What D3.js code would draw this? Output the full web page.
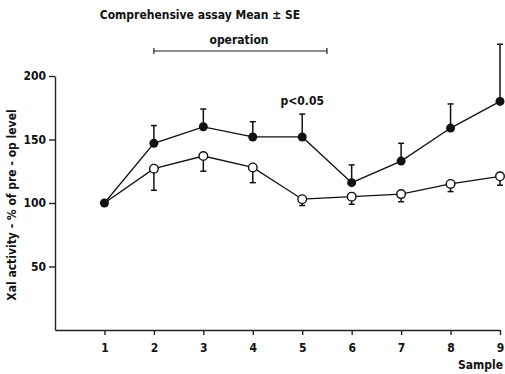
<!DOCTYPE html>
<meta charset="utf-8">
<script src="https://d3js.org/d3.v7.min.js"></script>
<style>
  body { margin: 0; background: #fff; }
  text { font-family: "Liberation Sans Narrow", "DejaVu Sans Condensed", "Roboto Condensed", sans-serif; font-weight: bold; fill: #111; }
</style>
<div id="my_dataviz"></div>
<script>

  // data
  var samples = [1, 2, 3, 4, 5, 6, 7, 8, 9]
  var filledMean = [100, 147, 160, 152, 152, 116, 133, 159, 180]
  var filledUpper = [100, 161, 174, 164, 170, 130, 147, 178, 225]
  var openMean = [100, 127, 137, 128, 103, 105, 107, 115, 121]
  var openLower = [100, 110, 125, 116, 98, 99, 101, 109, 114]
  var yTicks = [50, 100, 150, 200]

  var width = 505, height = 374

  var svg = d3.select("#my_dataviz")
    .append("svg")
      .attr("width", width)
      .attr("height", height)

  var x = d3.scaleLinear().domain([0, 9]).range([55, 500])
  var y = d3.scaleLinear().domain([0, 200]).range([330, 76])

  // axes
  var xAxis = svg.append("g")
    .attr("transform", "translate(0," + y(0) + ")")
    .call(d3.axisBottom(x).tickValues(samples).tickSize(5).tickPadding(8).tickSizeOuter(0))
  var yAxis = svg.append("g")
    .attr("transform", "translate(" + x(0) + ",0)")
    .call(d3.axisLeft(y).tickValues(yTicks).tickSize(6).tickPadding(3).tickSizeOuter(0))
  svg.selectAll(".domain, .tick line").attr("stroke", "#222").attr("stroke-width", 1.4)
  svg.selectAll(".tick text").style("font-size", "12px")

  svg.append("text")
    .attr("x", 503).attr("y", 369)
    .attr("text-anchor", "end")
    .style("font-size", "12px")
    .text("Sample")

  svg.append("text")
    .attr("transform", "translate(16,205) rotate(-90)")
    .attr("text-anchor", "middle")
    .style("font-size", "12px")
    .text("Xal activity - % of pre - op level")

  // titles
  svg.append("text")
    .attr("x", 200).attr("y", 19)
    .attr("text-anchor", "middle")
    .style("font-size", "12px")
    .text("Comprehensive assay  Mean \u00b1 SE")
  svg.append("text")
    .attr("x", 239).attr("y", 44)
    .attr("text-anchor", "middle")
    .style("font-size", "12px")
    .text("operation")

  // operation bracket
  var opStart = 2, opEnd = 5.5
  var br = svg.append("g").attr("stroke", "#222").attr("stroke-width", 1.2)
  br.append("line").attr("x1", x(opStart)).attr("x2", x(opEnd)).attr("y1", 51).attr("y2", 51)
  br.append("line").attr("x1", x(opStart)).attr("x2", x(opStart)).attr("y1", 48).attr("y2", 54)
  br.append("line").attr("x1", x(opEnd)).attr("x2", x(opEnd)).attr("y1", 48).attr("y2", 54)

  svg.append("text")
    .attr("x", x(5)).attr("y", 105)
    .attr("text-anchor", "middle")
    .style("font-size", "12px")
    .text("p<0.05")

  var line = d3.line()
    .x(function(d) { return x(d[0]) })
    .y(function(d) { return y(d[1]) })

  // error bars
  var cap = 3
  samples.forEach(function(s, i) {
    if (filledUpper[i] > filledMean[i]) {
      svg.append("line").attr("x1", x(s)).attr("x2", x(s)).attr("y1", y(filledMean[i])).attr("y2", y(filledUpper[i])).attr("stroke", "#111").attr("stroke-width", 1.5)
      svg.append("line").attr("x1", x(s) - cap).attr("x2", x(s) + cap).attr("y1", y(filledUpper[i])).attr("y2", y(filledUpper[i])).attr("stroke", "#111").attr("stroke-width", 1.5)
    }
    if (openLower[i] < openMean[i]) {
      svg.append("line").attr("x1", x(s)).attr("x2", x(s)).attr("y1", y(openMean[i])).attr("y2", y(openLower[i])).attr("stroke", "#111").attr("stroke-width", 1.5)
      svg.append("line").attr("x1", x(s) - cap).attr("x2", x(s) + cap).attr("y1", y(openLower[i])).attr("y2", y(openLower[i])).attr("stroke", "#111").attr("stroke-width", 1.5)
    }
  })

  // lines
  svg.append("path")
    .datum(samples.map(function(s, i) { return [s, filledMean[i]] }))
    .attr("fill", "none").attr("stroke", "#111").attr("stroke-width", 1.3)
    .attr("d", line)
  svg.append("path")
    .datum(samples.map(function(s, i) { return [s, openMean[i]] }))
    .attr("fill", "none").attr("stroke", "#111").attr("stroke-width", 1.3)
    .attr("d", line)

  // markers
  svg.selectAll("opendots")
    .data(samples.slice(1))
    .enter()
    .append("circle")
      .attr("cx", function(d) { return x(d) })
      .attr("cy", function(d) { return y(openMean[d - 1]) })
      .attr("r", 4.3)
      .attr("fill", "#fff").attr("stroke", "#111").attr("stroke-width", 1.4)
  svg.selectAll("filleddots")
    .data(samples)
    .enter()
    .append("circle")
      .attr("cx", function(d) { return x(d) })
      .attr("cy", function(d) { return y(filledMean[d - 1]) })
      .attr("r", 4.5)
      .attr("fill", "#111")

</script>
